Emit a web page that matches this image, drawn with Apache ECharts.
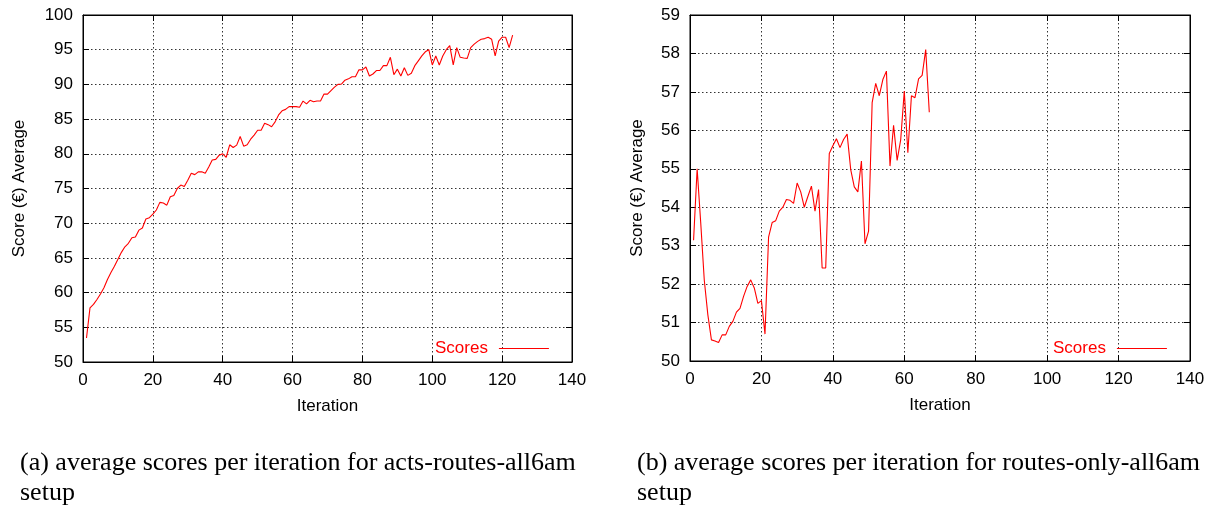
<!DOCTYPE html>
<html>
<head>
<meta charset="utf-8">
<script src="https://cdn.jsdelivr.net/npm/echarts@6/dist/echarts.min.js"></script>
<style>
html,body{margin:0;padding:0;background:#fff;}
#chart{width:1213px;height:508px;}
</style>
</head>
<body>
<div id="chart"></div>
<script>
// Left chart (a): acts-routes-all6am, iterations 1..123
const scoresA = [
  53.45, 57.8, 58.3, 59.0, 59.8, 60.7, 61.9, 62.9, 63.8, 64.8,
  65.8, 66.6, 67.1, 67.9, 68.0, 69.0, 69.3, 70.6, 70.8, 71.3,
  71.9, 73.0, 72.9, 72.6, 73.8, 74.0, 75.0, 75.5, 75.3, 76.2,
  77.2, 77.0, 77.4, 77.4, 77.2, 78.1, 79.1, 79.2, 79.8, 80.0,
  79.5, 81.3, 80.9, 81.25, 82.5, 81.1, 81.3, 82.1, 82.7, 83.4,
  83.4, 84.4, 84.2, 83.9, 84.6, 85.6, 86.2, 86.4, 86.8, 86.8,
  86.8, 86.7, 87.6, 87.2, 87.7, 87.5, 87.6, 87.6, 88.6, 88.6,
  89.1, 89.6, 90.0, 90.05, 90.6, 90.8, 91.1, 91.1, 92.1, 92.1,
  92.5, 91.2, 91.5, 92.0, 92.0, 92.7, 92.7, 93.9, 91.4, 92.2,
  91.2, 92.4, 91.3, 91.6, 92.7, 93.4, 94.1, 94.7, 95.0, 92.8,
  94.1, 92.8, 94.1, 95.0, 95.6, 92.8, 95.3, 93.9, 93.8, 93.75,
  95.3, 95.8, 96.2, 96.5, 96.6, 96.8, 96.5, 94.1, 96.25, 96.8,
  96.8, 95.3, 97.1
];
// Right chart (b): routes-only-all6am, iterations 1..67
const scoresB = [
  53.14, 55.0, 53.6, 52.1, 51.2, 50.55, 50.52, 50.48, 50.68, 50.68,
  50.9, 51.03, 51.27, 51.37, 51.68, 51.94, 52.11, 51.9, 51.5, 51.57,
  50.7, 53.22, 53.6, 53.65, 53.9, 54.0, 54.2, 54.18, 54.1, 54.63,
  54.4, 54.0, 54.28, 54.55, 53.9, 54.46, 52.42, 52.42, 55.4, 55.6,
  55.78, 55.55, 55.76, 55.9, 54.98, 54.53, 54.4, 55.2, 53.05, 53.38,
  56.72, 57.22, 56.9, 57.32, 57.54, 55.07, 56.13, 55.22, 55.76, 57.02,
  55.42, 56.9, 56.85, 57.34, 57.43, 58.1, 56.47
];
const xTicks = [0, 20, 40, 60, 80, 100, 120, 140];
const yTicksA = [50, 55, 60, 65, 70, 75, 80, 85, 90, 95, 100];
const yTicksB = [50, 51, 52, 53, 54, 55, 56, 57, 58, 59];
const seriesName = 'Scores';
const yAxisTitle = 'Score (€) Average';
const xAxisTitle = 'Iteration';
const captionA = ['(a) average scores per iteration for acts-routes-all6am', 'setup'];
const captionB = ['(b) average scores per iteration for routes-only-all6am', 'setup'];

const pairs = arr => arr.map((v, i) => [i + 1, v]);

const labelFont = {fontFamily: 'Liberation Sans, Arial, sans-serif', fontSize: 17, color: '#000'};
const gridLine = {show: true, lineStyle: {color: '#333', type: [1.5, 2.5], width: 1}};

function xAxes(gi) {
  return [
    {gridIndex: gi, type: 'value', min: xTicks[0], max: xTicks[xTicks.length - 1],
     interval: xTicks[1] - xTicks[0], position: 'bottom',
     name: xAxisTitle, nameLocation: 'middle', nameGap: 36,
     nameTextStyle: labelFont,
     axisLine: {show: true, onZero: false, lineStyle: {color: '#000', width: 1}},
     axisTick: {show: true, inside: true, length: 6, lineStyle: {color: '#000'}},
     axisLabel: Object.assign({margin: 10}, labelFont),
     splitLine: gridLine},
    {gridIndex: gi, type: 'value', min: xTicks[0], max: xTicks[xTicks.length - 1],
     interval: xTicks[1] - xTicks[0], position: 'top',
     axisLine: {show: true, onZero: false, lineStyle: {color: '#000', width: 1}},
     axisTick: {show: true, inside: true, length: 6, lineStyle: {color: '#000'}},
     axisLabel: {show: false}, splitLine: {show: false}}
  ];
}
function yAxes(gi, ticks, gap) {
  const mn = ticks[0], mx = ticks[ticks.length - 1], iv = ticks[1] - ticks[0];
  return [
    {gridIndex: gi, type: 'value', min: mn, max: mx, interval: iv, position: 'left',
     name: yAxisTitle, nameLocation: 'middle', nameGap: gap, nameRotate: 90,
     nameTextStyle: labelFont,
     axisLine: {show: true, onZero: false, lineStyle: {color: '#000', width: 1}},
     axisTick: {show: true, inside: true, length: 6, lineStyle: {color: '#000'}},
     axisLabel: Object.assign({margin: 10}, labelFont),
     splitLine: gridLine},
    {gridIndex: gi, type: 'value', min: mn, max: mx, interval: iv, position: 'right',
     axisLine: {show: true, onZero: false, lineStyle: {color: '#000', width: 1}},
     axisTick: {show: true, inside: true, length: 6, lineStyle: {color: '#000'}},
     axisLabel: {show: false}, splitLine: {show: false}}
  ];
}

const captionFont = '26px "Liberation Serif", "Times New Roman", serif';
function captionText(lines, x) {
  return lines.map((t, i) => ({
    type: 'text', left: x, top: 450 + i * 30,
    style: {text: t, font: captionFont, fill: '#000'}
  }));
}

const chart = echarts.init(document.getElementById('chart'), null, {renderer: 'canvas'});
chart.setOption({
  backgroundColor: '#fff',
  animation: false,
  grid: [
    {left: 83, top: 15, width: 489, height: 347, show: true, borderColor: '#000', borderWidth: 1, backgroundColor: 'transparent'},
    {left: 690, top: 15, width: 500, height: 346, show: true, borderColor: '#000', borderWidth: 1, backgroundColor: 'transparent'}
  ],
  xAxis: xAxes(0).concat(xAxes(1)),
  yAxis: yAxes(0, yTicksA, 55).concat(yAxes(1, yTicksB, 44)),
  legend: [
    {data: [{name: seriesName, icon: 'rect'}], left: 430, top: 335, align: 'right',
     itemWidth: 50, itemHeight: 1, itemGap: 10,
     textStyle: {fontFamily: 'Liberation Sans, Arial, sans-serif', fontSize: 17, color: '#ff0000', padding: [0, 6, 0, 0]}},
    {data: [{name: seriesName, icon: 'rect'}], left: 1048, top: 335, align: 'right',
     itemWidth: 50, itemHeight: 1, itemGap: 10,
     textStyle: {fontFamily: 'Liberation Sans, Arial, sans-serif', fontSize: 17, color: '#ff0000', padding: [0, 6, 0, 0]}}
  ],
  series: [
    {name: seriesName, type: 'line', xAxisIndex: 0, yAxisIndex: 0, data: pairs(scoresA),
     showSymbol: false, symbol: 'none', lineStyle: {color: '#ff0000', width: 1.1}, itemStyle: {color: '#ff0000'}},
    {name: seriesName, type: 'line', xAxisIndex: 2, yAxisIndex: 2, data: pairs(scoresB),
     showSymbol: false, symbol: 'none', lineStyle: {color: '#ff0000', width: 1.1}, itemStyle: {color: '#ff0000'}}
  ],
  graphic: captionText(captionA, 20).concat(captionText(captionB, 637))
});
</script>
</body>
</html>
